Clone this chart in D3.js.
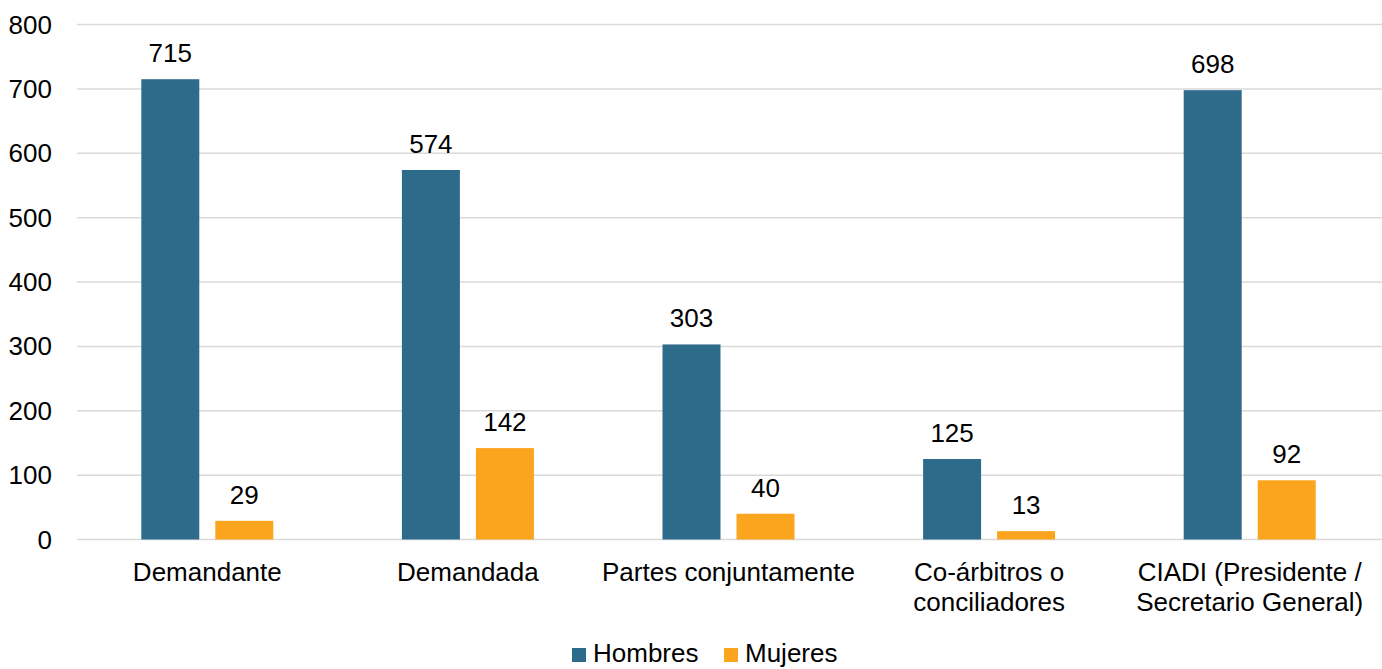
<!DOCTYPE html>
<html><head><meta charset="utf-8">
<script src="https://cdn.jsdelivr.net/npm/d3@7"></script>
<style>body{margin:0;background:#fff}svg{display:block;font-family:"Liberation Sans",Arial,sans-serif}</style>
</head><body><svg id="c" width="1382" height="669"></svg>
<script>
const categories = [["Demandante"],["Demandada"],["Partes conjuntamente"],["Co-árbitros o","conciliadores"],["CIADI (Presidente /","Secretario General)"]];
const seriesNames = ["Hombres","Mujeres"];
const hombres = [715,574,303,125,698];
const mujeres = [29,142,40,13,92];
const yTicks = [0,100,200,300,400,500,600,700,800];
const colors = {"Hombres":"#2E6B8A","Mujeres":"#FBA51F"};

const svg = d3.select("#c");
const keys = categories.map(c=>c.join(" "));
const x0 = d3.scaleBand().domain(keys).range([77,1380]).padding(0);
const x1 = d3.scaleBand().domain(seriesNames).range([0,132]).paddingInner(16/74).paddingOuter(0);
const y = d3.scaleLinear().domain([0,800]).range([539.5,24.5]);
const fs = 26;

// gridlines
svg.append("g").selectAll("line").data(yTicks).join("line")
  .attr("x1",77).attr("x2",1382).attr("y1",d=>y(d)).attr("y2",d=>y(d))
  .attr("stroke","#d9d9d9").attr("stroke-width",1.5);
// y labels
svg.append("g").selectAll("text").data(yTicks).join("text")
  .attr("x",52).attr("y",d=>y(d)).attr("dy","0.35em").attr("text-anchor","end")
  .attr("font-size",fs).attr("fill","#000").text(d=>d);

const data = keys.map((k,i)=>({k, vals:[{s:"Hombres",v:hombres[i]},{s:"Mujeres",v:mujeres[i]}]}));
const g = svg.append("g").selectAll("g").data(data).join("g")
  .attr("transform",d=>`translate(${x0(d.k)+x0.bandwidth()/2-66},0)`);
g.selectAll("rect").data(d=>d.vals).join("rect")
  .attr("x",d=>x1(d.s)).attr("width",x1.bandwidth())
  .attr("y",d=>y(d.v)).attr("height",d=>y(0)-y(d.v)).attr("fill",d=>colors[d.s]);
g.selectAll("text").data(d=>d.vals).join("text")
  .attr("x",d=>x1(d.s)+x1.bandwidth()/2).attr("y",d=>y(d.v)-17)
  .attr("text-anchor","middle").attr("font-size",fs).attr("fill","#000").text(d=>d.v);

// x labels
const xl = svg.append("g").selectAll("text").data(categories).join("text")
  .attr("text-anchor","middle").attr("font-size",fs).attr("fill","#000")
  .attr("transform",(d,i)=>`translate(${x0(keys[i])+x0.bandwidth()/2},581)`);
xl.selectAll("tspan").data(d=>d).join("tspan").attr("x",0).attr("y",(d,i)=>i*30).text(d=>d);

// legend
const leg = [{s:"Hombres",x:572},{s:"Mujeres",x:724}];
const lg = svg.append("g").selectAll("g").data(leg).join("g").attr("transform",d=>`translate(${d.x},648)`);
lg.append("rect").attr("width",14).attr("height",14).attr("fill",d=>colors[d.s]);
lg.append("text").attr("x",21).attr("y",14).attr("font-size",fs).attr("fill","#000").text(d=>d.s);
</script></body></html>
